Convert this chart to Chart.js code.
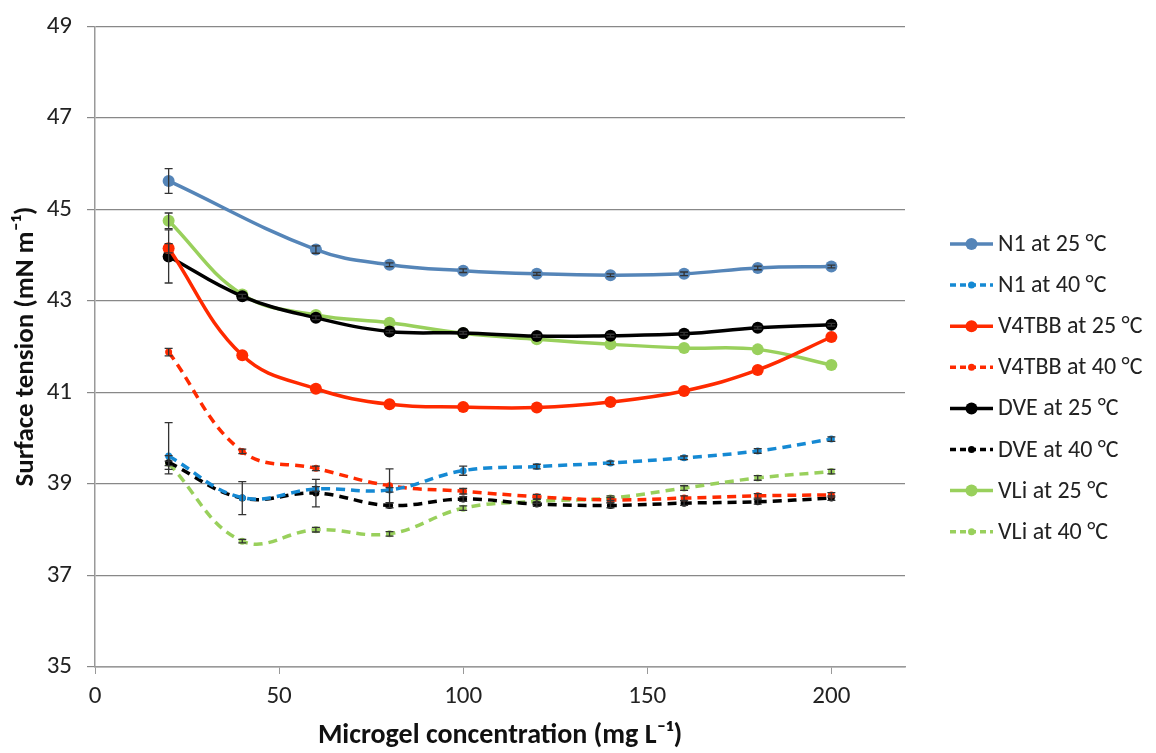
<!DOCTYPE html>
<html>
<head>
<meta charset="utf-8">
<script src="https://cdn.jsdelivr.net/npm/chart.js@4"></script>
<style>
  body { margin: 0; background: #fff; }
  #wrap { width: 1156px; height: 753px; }
</style>
</head>
<body>
<div id="wrap"><canvas id="myChart" width="1156" height="753"></canvas></div>
<script>
// concentraciones (mg/L)
const conc = [20, 40, 60, 80, 100, 120, 140, 160, 180, 200];

// tension superficial, null = sin medida
const n1_25    = [45.62, null, 44.12, 43.79, 43.66, 43.59, 43.56, 43.59, 43.72, 43.75];
const n1_40    = [39.61, 38.70, 38.89, 38.87, 39.29, 39.38, 39.46, 39.57, 39.72, 39.98];
const v4tbb_25 = [44.15, 41.81, 41.08, 40.74, 40.68, 40.67, 40.79, 41.03, 41.49, 42.21];
const v4tbb_40 = [41.88, 39.71, 39.34, 38.96, 38.84, 38.72, 38.65, 38.69, 38.74, 38.76];
const dve_25   = [43.97, 43.10, 42.63, 42.33, 42.30, 42.23, 42.24, 42.28, 42.41, 42.48];
const dve_40   = [39.47, 38.69, 38.80, 38.53, 38.67, 38.56, 38.53, 38.58, 38.61, 38.69];
const vli_25   = [44.75, 43.14, 42.69, 42.52, 42.29, 42.16, 42.05, 41.97, 41.94, 41.60];
const vli_40   = [39.45, 37.75, 38.00, 37.91, 38.47, 38.62, 38.69, 38.91, 39.13, 39.27];

// barras de error (numero = +/-, par = [abajo, arriba])
const n1_25Err    = [0.27, 0, 0.08, 0.04, 0.04, 0.03, 0.03, 0.04, 0.04, 0.03];
const n1_40Err    = [[0.39, 0.73], 0, 0.05, 0.05, 0.1, 0.05, 0.04, 0.04, 0.05, 0.05];
const v4tbb_25Err = [0.1, 0, 0, 0, 0, 0, 0, 0, 0, 0];
const v4tbb_40Err = [0.08, 0.05, 0.05, 0.37, 0.06, 0.05, 0.05, 0.05, 0.05, 0.05];
const dve_25Err   = [0.58, 0.04, 0.04, 0.03, 0.03, 0.03, 0.03, 0.03, 0.03, 0.03];
const dve_40Err   = [0.15, 0.36, 0.3, 0.05, 0.05, 0.05, 0.05, 0.05, 0.05, 0.05];
const vli_25Err   = [0.17, 0, 0, 0, 0, 0, 0, 0, 0, 0];
const vli_40Err   = [0.05, 0.04, 0.05, 0.05, 0.05, 0.05, 0.05, 0.05, 0.05, 0.05];

const FONT = "Carlito, Calibri, 'Open Sans', 'Noto Sans', sans-serif";

function puntos(vals, errs) {
    const pts = [];
    vals.forEach((v, i) => {
        if (v !== null) pts.push({ x: conc[i], y: v, err: errs[i] });
    });
    return pts;
}

function serie(label, vals, errs, color, dashed) {
    return {
        label: label,
        data: puntos(vals, errs),
        borderColor: color,
        backgroundColor: color,
        borderWidth: 3.5,
        borderDash: dashed ? [9, 6] : [],
        pointRadius: dashed ? 3.5 : 6,
        pointHoverRadius: dashed ? 3.5 : 6,
        pointBorderWidth: 0,
        tension: 0.4,
        dashed: dashed
    };
}

// se dibujan las barras de error sobre las lineas
const errorBars = {
    id: 'errorBars',
    afterDatasetsDraw(chart) {
        const ctx = chart.ctx;
        const y = chart.scales.y;
        ctx.save();
        ctx.strokeStyle = '#333';
        ctx.lineWidth = 1.3;
        chart.data.datasets.forEach((ds, di) => {
            const meta = chart.getDatasetMeta(di);
            ds.data.forEach((p, i) => {
                let lo = p.err, hi = p.err;
                if (Array.isArray(p.err)) { lo = p.err[0]; hi = p.err[1]; }
                if (!hi && !lo) return;
                const px = meta.data[i].x;
                const y1 = y.getPixelForValue(p.y + hi);
                const y2 = y.getPixelForValue(p.y - lo);
                ctx.beginPath();
                ctx.moveTo(px, y1); ctx.lineTo(px, y2);
                ctx.moveTo(px - 4, y1); ctx.lineTo(px + 4, y1);
                ctx.moveTo(px - 4, y2); ctx.lineTo(px + 4, y2);
                ctx.stroke();
            });
        });
        ctx.restore();
    }
};

// leyenda a la derecha con linea + punto
const leyenda = {
    id: 'leyenda',
    afterDraw(chart) {
        const ctx = chart.ctx;
        ctx.save();
        ctx.font = '24px ' + FONT;
        ctx.textBaseline = 'middle';
        chart.data.datasets.forEach((ds, i) => {
            const yy = 244 + i * 41.1;
            ctx.strokeStyle = ds.borderColor;
            ctx.lineWidth = 3.5;
            ctx.setLineDash(ds.dashed ? [6, 4] : []);
            ctx.beginPath();
            ctx.moveTo(950, yy); ctx.lineTo(993, yy);
            ctx.stroke();
            ctx.setLineDash([]);
            ctx.fillStyle = ds.borderColor;
            ctx.beginPath();
            ctx.arc(971.5, yy, ds.dashed ? 3.5 : 6, 0, Math.PI * 2);
            ctx.fill();
            ctx.fillStyle = '#222';
            ctx.fillText(ds.label, 998, yy + 1);
        });
        ctx.restore();
    }
};

const ctx = document.getElementById('myChart');

new Chart(ctx, {
    type: 'line',
    data: {
        datasets: [
            serie('N1 at 25 °C', n1_25, n1_25Err, '#5585b8', false),
            serie('N1 at 40 °C', n1_40, n1_40Err, '#1589d3', true),
            serie('V4TBB at 25 °C', v4tbb_25, v4tbb_25Err, '#ff2a00', false),
            serie('V4TBB at 40 °C', v4tbb_40, v4tbb_40Err, '#ff2a00', true),
            serie('DVE at 25 °C', dve_25, dve_25Err, '#000000', false),
            serie('DVE at 40 °C', dve_40, dve_40Err, '#000000', true),
            serie('VLi at 25 °C', vli_25, vli_25Err, '#99d05c', false),
            serie('VLi at 40 °C', vli_40, vli_40Err, '#99d05c', true)
        ]
    },
    plugins: [errorBars, leyenda],
    options: {
        responsive: false,
        animation: false,
        layout: { padding: { top: 4, right: 251, left: 8, bottom: 0 } },
        plugins: {
            legend: { display: false },
            tooltip: { enabled: false }
        },
        scales: {
            x: {
                type: 'linear',
                min: 0,
                max: 220,
                afterBuildTicks: (axis) => {
                    axis.ticks = axis.ticks.filter(t => t.value % 50 === 0);
                },
                afterFit: (axis) => { axis.height = 86; },
                ticks: {
                    stepSize: 50,
                    color: '#222',
                    font: { family: FONT, size: 25 },
                    padding: 8,
                    maxRotation: 0
                },
                grid: {
                    display: true,
                    drawOnChartArea: false,
                    drawTicks: true,
                    tickLength: 7,
                    color: '#999'
                },
                border: { color: '#999', width: 1.5 },
                title: {
                    display: true,
                    text: 'Microgel concentration (mg L⁻¹)',
                    color: '#111',
                    font: { family: FONT, size: 28, weight: 'bold' },
                    padding: { top: 4, bottom: 0 }
                }
            },
            y: {
                min: 35,
                max: 49,
                afterFit: (axis) => { axis.width = 87; },
                ticks: {
                    stepSize: 2,
                    color: '#222',
                    font: { family: FONT, size: 25, lineHeight: 0.9 },
                    padding: 15
                },
                grid: {
                    color: '#888',
                    lineWidth: 1.2,
                    tickLength: 8
                },
                border: { color: '#999', width: 1.5 },
                title: {
                    display: true,
                    text: 'Surface tension (mN m⁻¹)',
                    color: '#111',
                    font: { family: FONT, size: 27, weight: 'bold' },
                    padding: { top: 2, bottom: 2 }
                }
            }
        }
    }
});
</script>
</body>
</html>
